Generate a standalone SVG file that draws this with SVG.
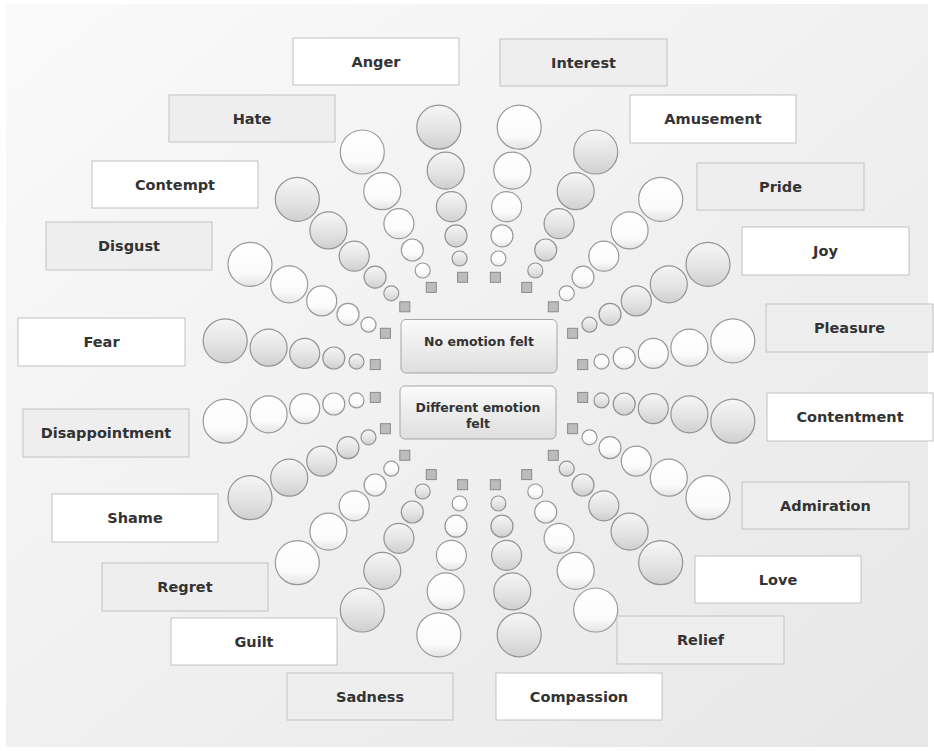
<svg xmlns="http://www.w3.org/2000/svg" width="934" height="751" viewBox="0 0 934 751">
<defs>
<linearGradient id="bg" x1="0" y1="0" x2="1" y2="1">
<stop offset="0" stop-color="#fafafa"/>
<stop offset="1" stop-color="#e7e7e7"/>
</linearGradient>
<linearGradient id="gw" x1="0" y1="0" x2="0" y2="1">
<stop offset="0" stop-color="#ffffff"/>
<stop offset="0.7" stop-color="#fbfbfb"/>
<stop offset="1" stop-color="#e4e4e4"/>
</linearGradient>
<linearGradient id="gg" x1="0" y1="0" x2="0" y2="1">
<stop offset="0" stop-color="#f6f6f6"/>
<stop offset="0.6" stop-color="#e2e2e2"/>
<stop offset="1" stop-color="#cfcfcf"/>
</linearGradient>
<linearGradient id="gc" x1="0" y1="0" x2="0" y2="1">
<stop offset="0" stop-color="#fbfbfb"/>
<stop offset="1" stop-color="#dedede"/>
</linearGradient>
</defs>
<style>
.w{fill:url(#gw);stroke:#999999;stroke-width:1.2}
.g{fill:url(#gg);stroke:#939393;stroke-width:1.2}
.s{fill:#bcbcbc;stroke:#8a8a8a;stroke-width:1}
.bw{fill:#ffffff;stroke:#c2c2c2;stroke-width:1}
.bg{fill:#eeeeee;stroke:#c2c2c2;stroke-width:1}
.bc{fill:url(#gc);stroke:#a6a6a6;stroke-width:1}
text{font-family:"DejaVu Sans","Liberation Sans",sans-serif;font-weight:bold;fill:#333333;text-anchor:middle}
.t{font-size:14.5px}
.tc{font-size:12.5px}
</style>
<rect x="0" y="0" width="934" height="751" fill="#ffffff"/>
<rect x="6" y="4" width="922" height="743" fill="url(#bg)"/>

<g id="connectors"></g>

<g id="spokes">
<g id="spoke-pleasure"><rect class="s" x="577.7" y="359.6" width="10" height="10"/><circle class="w" cx="601.5" cy="361.6" r="7.5"/><circle class="w" cx="624.2" cy="358.0" r="11"/><circle class="w" cx="653.3" cy="353.4" r="15"/><circle class="w" cx="689.4" cy="347.7" r="18.5"/><circle class="w" cx="732.8" cy="340.8" r="22"/></g>
<g id="spoke-joy"><rect class="s" x="567.6" y="328.3" width="10" height="10"/><circle class="g" cx="589.5" cy="324.7" r="7.5"/><circle class="g" cx="610.0" cy="314.3" r="11"/><circle class="g" cx="636.3" cy="300.9" r="15"/><circle class="g" cx="668.8" cy="284.3" r="18.5"/><circle class="g" cx="708.0" cy="264.3" r="22"/></g>
<g id="spoke-pride"><rect class="s" x="548.3" y="301.8" width="10" height="10"/><circle class="w" cx="566.7" cy="293.3" r="7.5"/><circle class="w" cx="583.0" cy="277.1" r="11"/><circle class="w" cx="603.8" cy="256.2" r="15"/><circle class="w" cx="629.6" cy="230.4" r="18.5"/><circle class="w" cx="660.7" cy="199.3" r="22"/></g>
<g id="spoke-amusement"><rect class="s" x="521.7" y="282.4" width="10" height="10"/><circle class="g" cx="535.3" cy="270.5" r="7.5"/><circle class="g" cx="545.7" cy="250.0" r="11"/><circle class="g" cx="559.1" cy="223.7" r="15"/><circle class="g" cx="575.7" cy="191.2" r="18.5"/><circle class="g" cx="595.7" cy="152.0" r="22"/></g>
<g id="spoke-interest"><rect class="s" x="490.4" y="272.3" width="10" height="10"/><circle class="w" cx="498.4" cy="258.5" r="7.5"/><circle class="w" cx="502.0" cy="235.8" r="11"/><circle class="w" cx="506.6" cy="206.7" r="15"/><circle class="w" cx="512.3" cy="170.6" r="18.5"/><circle class="w" cx="519.2" cy="127.2" r="22"/></g>
<g id="spoke-anger"><rect class="s" x="457.6" y="272.3" width="10" height="10"/><circle class="g" cx="459.6" cy="258.5" r="7.5"/><circle class="g" cx="456.0" cy="235.8" r="11"/><circle class="g" cx="451.4" cy="206.7" r="15"/><circle class="g" cx="445.7" cy="170.6" r="18.5"/><circle class="g" cx="438.8" cy="127.2" r="22"/></g>
<g id="spoke-hate"><rect class="s" x="426.3" y="282.4" width="10" height="10"/><circle class="w" cx="422.7" cy="270.5" r="7.5"/><circle class="w" cx="412.3" cy="250.0" r="11"/><circle class="w" cx="398.9" cy="223.7" r="15"/><circle class="w" cx="382.3" cy="191.2" r="18.5"/><circle class="w" cx="362.3" cy="152.0" r="22"/></g>
<g id="spoke-contempt"><rect class="s" x="399.8" y="301.8" width="10" height="10"/><circle class="g" cx="391.3" cy="293.3" r="7.5"/><circle class="g" cx="375.1" cy="277.1" r="11"/><circle class="g" cx="354.2" cy="256.2" r="15"/><circle class="g" cx="328.4" cy="230.4" r="18.5"/><circle class="g" cx="297.3" cy="199.3" r="22"/></g>
<g id="spoke-disgust"><rect class="s" x="380.4" y="328.3" width="10" height="10"/><circle class="w" cx="368.5" cy="324.7" r="7.5"/><circle class="w" cx="348.0" cy="314.3" r="11"/><circle class="w" cx="321.7" cy="300.9" r="15"/><circle class="w" cx="289.2" cy="284.3" r="18.5"/><circle class="w" cx="250.0" cy="264.3" r="22"/></g>
<g id="spoke-fear"><rect class="s" x="370.3" y="359.6" width="10" height="10"/><circle class="g" cx="356.5" cy="361.6" r="7.5"/><circle class="g" cx="333.8" cy="358.0" r="11"/><circle class="g" cx="304.7" cy="353.4" r="15"/><circle class="g" cx="268.6" cy="347.7" r="18.5"/><circle class="g" cx="225.2" cy="340.8" r="22"/></g>
<g id="spoke-disappointment"><rect class="s" x="370.3" y="392.4" width="10" height="10"/><circle class="w" cx="356.5" cy="400.4" r="7.5"/><circle class="w" cx="333.8" cy="404.0" r="11"/><circle class="w" cx="304.7" cy="408.6" r="15"/><circle class="w" cx="268.6" cy="414.3" r="18.5"/><circle class="w" cx="225.2" cy="421.2" r="22"/></g>
<g id="spoke-shame"><rect class="s" x="380.4" y="423.7" width="10" height="10"/><circle class="g" cx="368.5" cy="437.3" r="7.5"/><circle class="g" cx="348.0" cy="447.7" r="11"/><circle class="g" cx="321.7" cy="461.1" r="15"/><circle class="g" cx="289.2" cy="477.7" r="18.5"/><circle class="g" cx="250.0" cy="497.7" r="22"/></g>
<g id="spoke-regret"><rect class="s" x="399.8" y="450.3" width="10" height="10"/><circle class="w" cx="391.3" cy="468.7" r="7.5"/><circle class="w" cx="375.1" cy="485.0" r="11"/><circle class="w" cx="354.2" cy="505.8" r="15"/><circle class="w" cx="328.4" cy="531.6" r="18.5"/><circle class="w" cx="297.3" cy="562.7" r="22"/></g>
<g id="spoke-guilt"><rect class="s" x="426.3" y="469.6" width="10" height="10"/><circle class="g" cx="422.7" cy="491.5" r="7.5"/><circle class="g" cx="412.3" cy="512.0" r="11"/><circle class="g" cx="398.9" cy="538.3" r="15"/><circle class="g" cx="382.3" cy="570.8" r="18.5"/><circle class="g" cx="362.3" cy="610.0" r="22"/></g>
<g id="spoke-sadness"><rect class="s" x="457.6" y="479.7" width="10" height="10"/><circle class="w" cx="459.6" cy="503.5" r="7.5"/><circle class="w" cx="456.0" cy="526.2" r="11"/><circle class="w" cx="451.4" cy="555.3" r="15"/><circle class="w" cx="445.7" cy="591.4" r="18.5"/><circle class="w" cx="438.8" cy="634.8" r="22"/></g>
<g id="spoke-compassion"><rect class="s" x="490.4" y="479.7" width="10" height="10"/><circle class="g" cx="498.4" cy="503.5" r="7.5"/><circle class="g" cx="502.0" cy="526.2" r="11"/><circle class="g" cx="506.6" cy="555.3" r="15"/><circle class="g" cx="512.3" cy="591.4" r="18.5"/><circle class="g" cx="519.2" cy="634.8" r="22"/></g>
<g id="spoke-relief"><rect class="s" x="521.7" y="469.6" width="10" height="10"/><circle class="w" cx="535.3" cy="491.5" r="7.5"/><circle class="w" cx="545.7" cy="512.0" r="11"/><circle class="w" cx="559.1" cy="538.3" r="15"/><circle class="w" cx="575.7" cy="570.8" r="18.5"/><circle class="w" cx="595.7" cy="610.0" r="22"/></g>
<g id="spoke-love"><rect class="s" x="548.3" y="450.3" width="10" height="10"/><circle class="g" cx="566.7" cy="468.7" r="7.5"/><circle class="g" cx="583.0" cy="485.0" r="11"/><circle class="g" cx="603.8" cy="505.8" r="15"/><circle class="g" cx="629.6" cy="531.6" r="18.5"/><circle class="g" cx="660.7" cy="562.7" r="22"/></g>
<g id="spoke-admiration"><rect class="s" x="567.6" y="423.7" width="10" height="10"/><circle class="w" cx="589.5" cy="437.3" r="7.5"/><circle class="w" cx="610.0" cy="447.7" r="11"/><circle class="w" cx="636.3" cy="461.1" r="15"/><circle class="w" cx="668.8" cy="477.7" r="18.5"/><circle class="w" cx="708.0" cy="497.7" r="22"/></g>
<g id="spoke-contentment"><rect class="s" x="577.7" y="392.4" width="10" height="10"/><circle class="g" cx="601.5" cy="400.4" r="7.5"/><circle class="g" cx="624.2" cy="404.0" r="11"/><circle class="g" cx="653.3" cy="408.6" r="15"/><circle class="g" cx="689.4" cy="414.3" r="18.5"/><circle class="g" cx="732.8" cy="421.2" r="22"/></g>
</g>

<g id="center-none"><rect class="bc" x="401" y="319.5" width="156" height="53.5" rx="5"/><text class="tc" x="479" y="345.5">No emotion felt</text></g>
<g id="center-different"><rect class="bc" x="400" y="386" width="156" height="53" rx="5"/><text class="tc" x="478" y="411.5">Different emotion</text><text class="tc" x="478" y="427.5">felt</text></g>

<g id="label-anger"><rect class="bw" x="293" y="38" width="166" height="47"/><text class="t" x="376" y="67">Anger</text></g>
<g id="label-interest"><rect class="bg" x="500" y="39" width="167" height="47"/><text class="t" x="583.5" y="68">Interest</text></g>
<g id="label-hate"><rect class="bg" x="169" y="95" width="166" height="47"/><text class="t" x="252" y="124">Hate</text></g>
<g id="label-amusement"><rect class="bw" x="630" y="95" width="166" height="48"/><text class="t" x="713" y="124">Amusement</text></g>
<g id="label-contempt"><rect class="bw" x="92" y="161" width="166" height="47"/><text class="t" x="175" y="190">Contempt</text></g>
<g id="label-pride"><rect class="bg" x="697" y="163" width="167" height="47"/><text class="t" x="780.5" y="192">Pride</text></g>
<g id="label-disgust"><rect class="bg" x="46" y="222" width="166" height="48"/><text class="t" x="129" y="251">Disgust</text></g>
<g id="label-joy"><rect class="bw" x="742" y="227" width="167" height="48"/><text class="t" x="825.5" y="256">Joy</text></g>
<g id="label-fear"><rect class="bw" x="18" y="318" width="167" height="48"/><text class="t" x="101.5" y="347">Fear</text></g>
<g id="label-pleasure"><rect class="bg" x="766" y="304" width="167" height="48"/><text class="t" x="849.5" y="333">Pleasure</text></g>
<g id="label-disappointment"><rect class="bg" x="23" y="409" width="166" height="48"/><text class="t" x="106" y="438">Disappointment</text></g>
<g id="label-contentment"><rect class="bw" x="767" y="393" width="166" height="48"/><text class="t" x="850" y="422">Contentment</text></g>
<g id="label-shame"><rect class="bw" x="52" y="494" width="166" height="48"/><text class="t" x="135" y="523">Shame</text></g>
<g id="label-admiration"><rect class="bg" x="742" y="482" width="167" height="47"/><text class="t" x="825.5" y="511">Admiration</text></g>
<g id="label-regret"><rect class="bg" x="102" y="563" width="166" height="48"/><text class="t" x="185" y="592">Regret</text></g>
<g id="label-love"><rect class="bw" x="695" y="556" width="166" height="47"/><text class="t" x="778" y="585">Love</text></g>
<g id="label-guilt"><rect class="bw" x="171" y="618" width="166" height="47"/><text class="t" x="254" y="647">Guilt</text></g>
<g id="label-relief"><rect class="bg" x="617" y="616" width="167" height="48"/><text class="t" x="700.5" y="645">Relief</text></g>
<g id="label-sadness"><rect class="bg" x="287" y="673" width="166" height="47"/><text class="t" x="370" y="702">Sadness</text></g>
<g id="label-compassion"><rect class="bw" x="496" y="673" width="166" height="47"/><text class="t" x="579" y="702">Compassion</text></g>
</svg>
